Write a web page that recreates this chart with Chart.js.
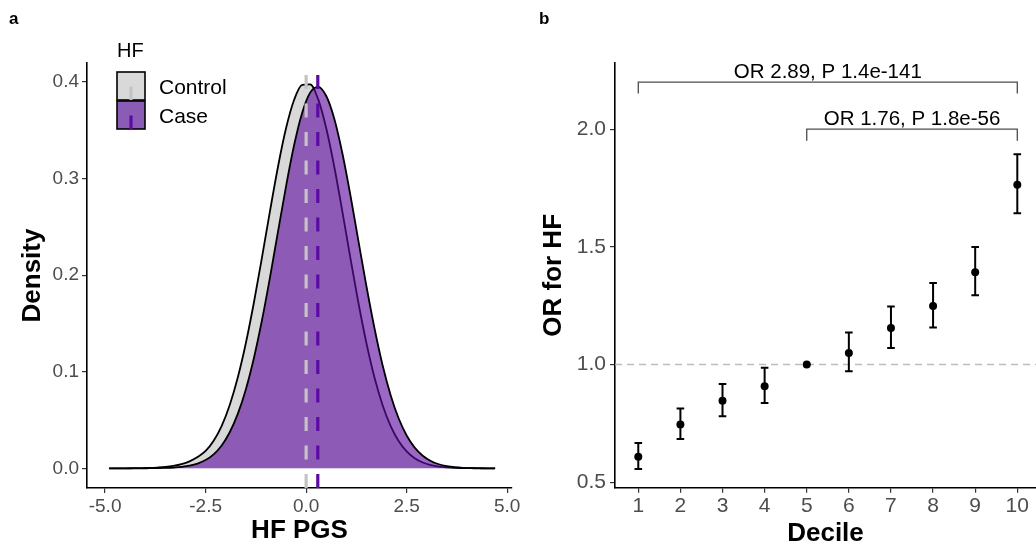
<!DOCTYPE html>
<html><head><meta charset="utf-8">
<script src="https://cdn.jsdelivr.net/npm/chart.js@4.4.0/dist/chart.umd.min.js"></script>
<style>
html,body{margin:0;padding:0;background:#fff;}
#wrap{position:relative;width:1036px;height:550px;overflow:hidden;background:#fff;}
#c1{position:absolute;left:0;top:0;}
#c2{position:absolute;left:520px;top:0;}
</style></head><body>
<div id="wrap"><canvas id="c2" width="520" height="550"></canvas><canvas id="c1" width="530" height="550"></canvas></div>
<script>
// ---------- Panel a: PGS density ----------
const pgsX = [-4.9,-4.7,-4.5,-4.3,-4.1,-3.9,-3.7,-3.5,-3.3,-3.1,-2.9,-2.7,-2.5,-2.3,-2.1,-1.9,-1.7,-1.5,-1.3,-1.1,-0.9,-0.7,-0.5,-0.3,-0.1,0.1,0.3,0.5,0.7,0.9,1.1,1.3,1.5,1.7,1.9,2.1,2.3,2.5,2.7,2.9,3.1,3.3,3.5,3.7,3.9,4.1,4.3,4.5,4.7];
const densityControl = [0.0000,0.0000,0.0000,0.0001,0.0002,0.0004,0.0008,0.0014,0.0025,0.0043,0.0072,0.0116,0.0180,0.0285,0.0440,0.0656,0.0940,0.1295,0.1714,0.2179,0.2661,0.3123,0.3521,0.3814,0.3970,0.3975,0.3820,0.3521,0.3123,0.2661,0.2179,0.1714,0.1295,0.0940,0.0656,0.0440,0.0283,0.0175,0.0104,0.0060,0.0033,0.0017,0.0009,0.0004,0.0002,0.0001,0.0000,0.0000,0.0000];
const densityCase = [0.0000,0.0000,0.0000,0.0000,0.0000,0.0001,0.0002,0.0004,0.0008,0.0015,0.0027,0.0049,0.0086,0.0145,0.0237,0.0373,0.0563,0.0817,0.1140,0.1530,0.1975,0.2450,0.2920,0.3345,0.3680,0.3890,0.3950,0.3855,0.3620,0.3265,0.2830,0.2355,0.1885,0.1450,0.1070,0.0760,0.0518,0.0340,0.0214,0.0130,0.0076,0.0042,0.0022,0.0011,0.0005,0.0002,0.0001,0.0000,0.0000];
const groupLabels = ['Control','Case'];
const groupMeans = [0.0, 0.29];
const pgsTicks = [-5.0,-2.5,0.0,2.5,5.0];
const densityTicks = [0.0,0.1,0.2,0.3,0.4];

// ---------- Panel b: OR by decile ----------
const deciles = [1,2,3,4,5,6,7,8,9,10];
const orEstimate = [0.608,0.745,0.846,0.908,1.000,1.049,1.155,1.249,1.392,1.764];
const orLower    = [0.556,0.684,0.781,0.837,1.000,0.972,1.070,1.158,1.294,1.643];
const orUpper    = [0.667,0.813,0.918,0.986,1.000,1.136,1.247,1.346,1.499,1.893];
const orTicks = [0.5,1.0,1.5,2.0];
const referenceOR = 1.0;
const compFrom = [1,5];
const compTo = [10,10];
const compLevel = [2.2,2.0];
const compText = ['OR 2.89, P 1.4e-141','OR 1.76, P 1.8e-56'];

const FONT = '"Liberation Sans", Arial, Helvetica, sans-serif';
const PURPLE_LINE = '#5a0ca0';
const GREY_LINE = '#c4c4c4';
const CONTROL_FILL = '#d9d9d9';
const CASE_FILL = 'rgba(94,12,160,0.62)';

function axisCommon(tickSize){
  return {
    grid:{display:true, drawOnChartArea:false, drawTicks:true, tickLength:5, color:'#333', lineWidth:1.2},
    border:{display:true, color:'#000', width:1.6},
    ticks:{color:'#4d4d4d', font:{family:FONT, size:tickSize}}
  };
}
function noPad(s){ s.paddingLeft = 0; s.paddingRight = 0; }

const meanLines = {
  id:'meanLines',
  afterDatasetsDraw(chart){
    const {ctx, chartArea, scales:{x}} = chart;
    const cols = [GREY_LINE, PURPLE_LINE];
    ctx.save();
    ctx.lineWidth = 3.2;
    ctx.setLineDash([14,14.5]);
    groupMeans.forEach((m,i)=>{
      const px = x.getPixelForValue(m);
      ctx.strokeStyle = cols[i];
      ctx.beginPath();
      ctx.moveTo(px, chartArea.bottom);
      ctx.lineTo(px, chartArea.top);
      ctx.stroke();
    });
    ctx.restore();
  },
  afterDraw(chart){
    const ctx = chart.ctx;
    ctx.save();
    ctx.fillStyle = '#000';
    ctx.font = 'bold 17px ' + FONT;
    ctx.textBaseline = 'alphabetic';
    ctx.fillText('a', 9, 24);
    ctx.font = '20px ' + FONT;
    ctx.fillText('HF', 117, 57);
    const keyFill = [CONTROL_FILL, '#8b5cb5'];
    const keyLine = [GREY_LINE, PURPLE_LINE];
    groupLabels.forEach((lab,i)=>{
      const y0 = 72 + i*29;
      ctx.fillStyle = keyFill[i];
      ctx.fillRect(117, y0, 28, 28);
      ctx.strokeStyle = '#000';
      ctx.lineWidth = 1.6;
      ctx.strokeRect(117, y0, 28, 28);
      ctx.strokeStyle = keyLine[i];
      ctx.lineWidth = 3.2;
      ctx.beginPath();
      ctx.moveTo(131, y0+14.5);
      ctx.lineTo(131, y0+28);
      ctx.stroke();
      ctx.fillStyle = '#000';
      ctx.font = '21px ' + FONT;
      ctx.fillText(lab, 159, y0 + 22);
    });
    ctx.restore();
  }
};

const axA = axisCommon(19);
new Chart(document.getElementById('c1'), {
  type:'line',
  data:{
    datasets:[
      {label:groupLabels[0], data:pgsX.map((v,i)=>({x:v,y:densityControl[i]})), order:1,
       borderColor:'#000', borderWidth:1.8, backgroundColor:CONTROL_FILL, fill:'origin', pointRadius:0, cubicInterpolationMode:'monotone'},
      {label:groupLabels[1], data:pgsX.map((v,i)=>({x:v,y:densityCase[i]})), order:0,
       borderColor:'#000', borderWidth:1.8, backgroundColor:CASE_FILL, fill:'origin', pointRadius:0, cubicInterpolationMode:'monotone'}
    ]
  },
  options:{
    responsive:false, animation:false, events:[],
    layout:{padding:{top:63, right:18, left:0, bottom:0}},
    plugins:{legend:{display:false}, tooltip:{enabled:false}},
    scales:{
      x:{type:'linear', min:-5.45, max:5.12, ...axA,
         ticks:{...axA.ticks, padding:2, callback:v=>v.toFixed(1)},
         afterBuildTicks:s=>{s.ticks = pgsTicks.map(v=>({value:v}));},
         afterFit:s=>{s.height = 62; noPad(s);},
         title:{display:true, text:'HF PGS', color:'#000', font:{family:FONT, size:26, weight:'bold'}, padding:{top:0,bottom:4}}},
      y:{type:'linear', min:-0.0204, max:0.4197, ...axA,
         ticks:{...axA.ticks, padding:3, callback:v=>v.toFixed(1)},
         afterBuildTicks:s=>{s.ticks = densityTicks.map(v=>({value:v}));},
         afterFit:s=>{s.width = 87;},
         title:{display:true, text:'Density', color:'#000', font:{family:FONT, size:26, weight:'bold'}, padding:{top:17,bottom:0}}}
    }
  },
  plugins:[meanLines]
});

const orDecor = {
  id:'orDecor',
  beforeDatasetsDraw(chart){
    const {ctx, chartArea, scales:{x,y}} = chart;
    ctx.save();
    const ry = y.getPixelForValue(referenceOR);
    ctx.strokeStyle = '#bdbdbd';
    ctx.lineWidth = 1.4;
    ctx.setLineDash([7,5]);
    ctx.beginPath();
    ctx.moveTo(chartArea.left, ry);
    ctx.lineTo(chartArea.right, ry);
    ctx.stroke();
    ctx.setLineDash([]);
    ctx.strokeStyle = '#000';
    ctx.lineWidth = 2;
    deciles.forEach((d,i)=>{
      const px = x.getPixelForValue(d);
      const lo = y.getPixelForValue(orLower[i]);
      const hi = y.getPixelForValue(orUpper[i]);
      ctx.beginPath();
      ctx.moveTo(px, lo); ctx.lineTo(px, hi);
      ctx.moveTo(px-3.8, lo); ctx.lineTo(px+3.8, lo);
      ctx.moveTo(px-3.8, hi); ctx.lineTo(px+3.8, hi);
      ctx.stroke();
    });
    ctx.strokeStyle = '#4d4d4d';
    ctx.lineWidth = 1.3;
    ctx.fillStyle = '#000';
    ctx.font = '20.5px ' + FONT;
    ctx.textAlign = 'center';
    ctx.textBaseline = 'alphabetic';
    compText.forEach((t,i)=>{
      const x1 = x.getPixelForValue(compFrom[i]);
      const x2 = x.getPixelForValue(compTo[i]);
      const yy = y.getPixelForValue(compLevel[i]);
      ctx.beginPath();
      ctx.moveTo(x1, yy+11.5); ctx.lineTo(x1, yy); ctx.lineTo(x2, yy); ctx.lineTo(x2, yy+11.5);
      ctx.stroke();
      ctx.fillText(t, (x1+x2)/2, yy - 4);
    });
    ctx.restore();
  },
  afterDraw(chart){
    const ctx = chart.ctx;
    ctx.save();
    ctx.fillStyle = '#000';
    ctx.font = 'bold 17px ' + FONT;
    ctx.fillText('b', 19, 24);
    ctx.restore();
  }
};

const axB = axisCommon(21);
new Chart(document.getElementById('c2'), {
  type:'scatter',
  data:{
    datasets:[{label:'OR', data:deciles.map((d,i)=>({x:d,y:orEstimate[i]})),
      pointRadius:4, pointBackgroundColor:'#000', pointBorderColor:'#000', pointBorderWidth:0}]
  },
  options:{
    responsive:false, animation:false, events:[],
    layout:{padding:{top:63, right:0, left:0, bottom:0}},
    plugins:{legend:{display:false}, tooltip:{enabled:false}},
    scales:{
      x:{type:'linear', min:0.447, max:10.444, ...axB,
         ticks:{...axB.ticks, padding:1, callback:v=>String(v)},
         afterBuildTicks:s=>{s.ticks = deciles.map(v=>({value:v}));},
         afterFit:s=>{s.height = 62.3; noPad(s);},
         title:{display:true, text:'Decile', color:'#000', font:{family:FONT, size:26, weight:'bold'}, padding:{top:0,bottom:1}}},
      y:{type:'linear', min:0.477, max:2.281, ...axB,
         ticks:{...axB.ticks, padding:4, callback:v=>v.toFixed(1)},
         afterBuildTicks:s=>{s.ticks = orTicks.map(v=>({value:v}));},
         afterFit:s=>{s.width = 95;},
         title:{display:true, text:'OR for HF', color:'#000', font:{family:FONT, size:26, weight:'bold'}, padding:{top:18,bottom:0}}}
    }
  },
  plugins:[orDecor]
});
</script>
</body></html>
